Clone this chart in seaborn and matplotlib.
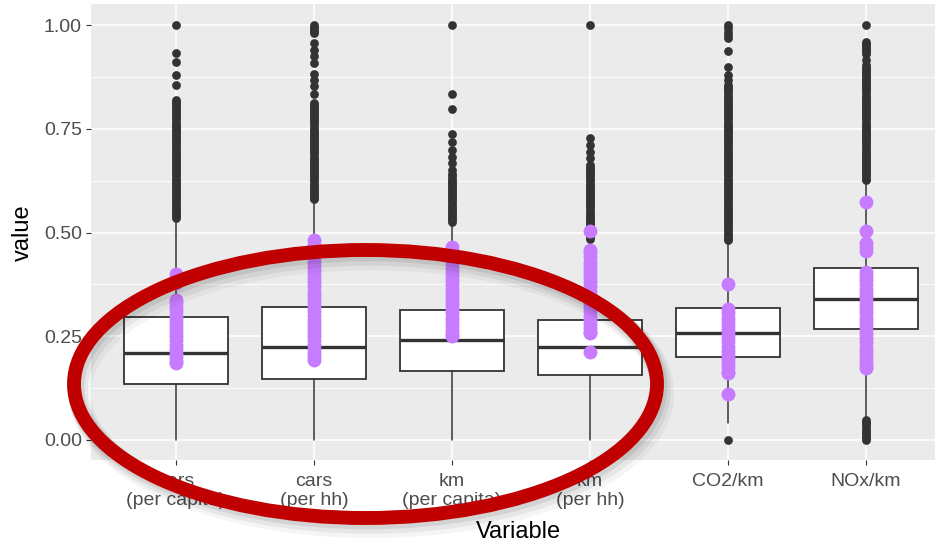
import matplotlib
matplotlib.use("Agg")
import matplotlib.pyplot as plt
from matplotlib.patches import Ellipse
import seaborn as sns
import pandas as pd

# categorias y estadisticos de las cajas
categories = ["cars\n(per capita)", "cars\n(per hh)", "km\n(per capita)",
              "km\n(per hh)", "CO2/km", "NOx/km"]
q1 = [0.134, 0.146, 0.166, 0.157, 0.200, 0.267]
med = [0.210, 0.225, 0.241, 0.225, 0.257, 0.339]
q3 = [0.297, 0.320, 0.313, 0.289, 0.317, 0.414]
whislo = [0.0, 0.0, 0.0, 0.0, 0.040, 0.055]
whishi = [0.530, 0.575, 0.520, 0.480, 0.475, 0.620]

# outliers (negros)
fliers_cars_pc = [1.00, 0.933, 0.911, 0.880, 0.855,
                  0.820, 0.815, 0.810, 0.805, 0.800, 0.795, 0.790, 0.785,
                  0.780, 0.775, 0.770, 0.765, 0.760, 0.755, 0.750, 0.745,
                  0.740, 0.735, 0.730, 0.725, 0.720, 0.715, 0.710, 0.705,
                  0.700, 0.695, 0.690, 0.685, 0.680, 0.675, 0.670, 0.665,
                  0.660, 0.655, 0.650, 0.645, 0.640, 0.635, 0.630, 0.625,
                  0.620, 0.615, 0.610, 0.605, 0.600, 0.595, 0.590, 0.585,
                  0.580, 0.575, 0.570, 0.565, 0.560, 0.555, 0.550, 0.545,
                  0.540, 0.536]
fliers_cars_hh = [1.00, 0.995, 0.990, 0.985, 0.980, 0.957, 0.940, 0.925,
                  0.908, 0.882, 0.867, 0.853, 0.833,
                  0.813, 0.808, 0.803, 0.798, 0.793, 0.788, 0.783, 0.778,
                  0.773, 0.768, 0.763, 0.758, 0.753, 0.748, 0.743, 0.738,
                  0.733, 0.728, 0.723, 0.718, 0.713, 0.708, 0.703, 0.698,
                  0.693, 0.688, 0.683, 0.678, 0.673, 0.668, 0.663, 0.658,
                  0.653, 0.648, 0.643, 0.638, 0.633, 0.628, 0.623, 0.618,
                  0.613, 0.608, 0.603, 0.598, 0.593, 0.588, 0.583, 0.580]
fliers_km_pc = [1.00, 0.833, 0.798, 0.737, 0.719, 0.699, 0.683, 0.667, 0.651,
                0.640, 0.635, 0.630, 0.625, 0.620, 0.615, 0.610, 0.605,
                0.600, 0.595, 0.590, 0.585, 0.580, 0.575, 0.570, 0.565,
                0.560, 0.555, 0.550, 0.545, 0.540, 0.535, 0.530, 0.526]
fliers_km_hh = [1.00, 0.728, 0.711, 0.695, 0.679,
                0.663, 0.658, 0.653, 0.648, 0.643, 0.638, 0.633, 0.628,
                0.623, 0.618, 0.613, 0.608, 0.603, 0.598, 0.593, 0.588,
                0.583, 0.578, 0.573, 0.568, 0.563, 0.558, 0.553, 0.548,
                0.543, 0.538, 0.533, 0.528, 0.523, 0.518, 0.513, 0.508,
                0.503, 0.498, 0.493, 0.488, 0.484]
fliers_co2 = [0.0, 1.00, 0.992, 0.984, 0.976, 0.968, 0.937, 0.900, 0.880,
              0.867, 0.855, 0.850, 0.845, 0.840, 0.835, 0.830, 0.825, 0.820,
              0.815, 0.810, 0.805, 0.800, 0.795, 0.790, 0.785, 0.780, 0.775,
              0.770, 0.765, 0.760, 0.755, 0.750, 0.745, 0.740, 0.735, 0.730,
              0.725, 0.720, 0.715, 0.710, 0.705, 0.700, 0.695, 0.690, 0.685,
              0.680, 0.675, 0.670, 0.665, 0.660, 0.655, 0.650, 0.645, 0.640,
              0.635, 0.630, 0.625, 0.620, 0.615, 0.610, 0.605, 0.600, 0.595,
              0.590, 0.585, 0.580, 0.575, 0.570, 0.565, 0.560, 0.555, 0.550,
              0.545, 0.540, 0.535, 0.530, 0.525, 0.520, 0.515, 0.510, 0.505,
              0.500, 0.495, 0.490, 0.485, 0.482]
fliers_nox = [1.00, 0.960, 0.955, 0.950, 0.945, 0.940, 0.935, 0.930, 0.916,
              0.904, 0.900, 0.895, 0.890, 0.885, 0.880, 0.875, 0.870, 0.865,
              0.860, 0.855, 0.850, 0.845, 0.840, 0.835, 0.830, 0.825, 0.820,
              0.815, 0.810, 0.805, 0.800, 0.795, 0.790, 0.785, 0.780, 0.775,
              0.770, 0.765, 0.760, 0.755, 0.750, 0.745, 0.740, 0.735, 0.730,
              0.725, 0.720, 0.715, 0.710, 0.705, 0.700, 0.695, 0.690, 0.685,
              0.680, 0.675, 0.670, 0.665, 0.660, 0.655, 0.650, 0.645, 0.640,
              0.635, 0.630, 0.627,
              0.048, 0.044, 0.040, 0.035, 0.030, 0.025, 0.020, 0.015, 0.010,
              0.005, 0.0]

# puntos morados
purple_cars_pc = [0.400, 0.390, 0.380, 0.378, 0.337, 0.330, 0.320, 0.310,
                  0.300, 0.290, 0.280, 0.270, 0.260, 0.250, 0.240, 0.230,
                  0.220, 0.210, 0.200, 0.190, 0.186]
purple_cars_hh = [0.482, 0.470, 0.460, 0.450, 0.440, 0.430, 0.420, 0.410,
                  0.400, 0.390, 0.380, 0.370, 0.360, 0.350, 0.340, 0.330,
                  0.320, 0.310, 0.300, 0.290, 0.280, 0.270, 0.260, 0.250,
                  0.240, 0.230, 0.220, 0.210, 0.200, 0.193]
purple_km_pc = [0.465, 0.455, 0.445, 0.435, 0.425, 0.415, 0.405, 0.395,
                0.385, 0.375, 0.365, 0.355, 0.345, 0.335, 0.325, 0.315,
                0.305, 0.295, 0.285, 0.275, 0.265, 0.255, 0.250]
purple_km_hh = [0.504, 0.458, 0.450, 0.440, 0.430, 0.420, 0.410, 0.400,
                0.390, 0.380, 0.370, 0.360, 0.350, 0.340, 0.330, 0.320,
                0.310, 0.300, 0.290, 0.280, 0.270, 0.260, 0.258, 0.213]
purple_co2 = [0.376, 0.316, 0.305, 0.295, 0.285, 0.275, 0.265, 0.255, 0.245,
              0.235, 0.225, 0.215, 0.205, 0.195, 0.185, 0.175, 0.165, 0.161,
              0.111]
purple_nox = [0.573, 0.504, 0.475, 0.465, 0.455, 0.405, 0.395, 0.385, 0.375,
              0.365, 0.355, 0.345, 0.335, 0.325, 0.315, 0.305, 0.295, 0.285,
              0.275, 0.265, 0.255, 0.245, 0.235, 0.225, 0.215, 0.205, 0.195,
              0.185, 0.175, 0.173]

fliers = [fliers_cars_pc, fliers_cars_hh, fliers_km_pc, fliers_km_hh,
          fliers_co2, fliers_nox]
purples = [purple_cars_pc, purple_cars_hh, purple_km_pc, purple_km_hh,
           purple_co2, purple_nox]

df_out = pd.DataFrame([(c, v) for c, vals in zip(categories, fliers) for v in vals],
                      columns=["Variable", "value"])
df_pur = pd.DataFrame([(c, v) for c, vals in zip(categories, purples) for v in vals],
                      columns=["Variable", "value"])

sns.set_theme(style="darkgrid", rc={
    "axes.facecolor": "#EBEBEB",
    "figure.facecolor": "white",
    "grid.color": "white",
})
plt.rcParams["font.family"] = ["Liberation Sans", "DejaVu Sans"]

W, H = 935, 544
fig = plt.figure(figsize=(W / 100, H / 100), dpi=100)
ax = fig.add_axes([91 / W, (H - 460) / H, (W - 91) / W, 456 / H])

# cajas
stats = [dict(q1=a, med=m, q3=b, whislo=lo, whishi=hi, fliers=[])
         for a, m, b, lo, hi in zip(q1, med, q3, whislo, whishi)]
ax.bxp(stats, positions=range(len(categories)), widths=0.75, showfliers=False,
       showcaps=False, patch_artist=True,
       boxprops=dict(facecolor="white", edgecolor="#333333", linewidth=1.3),
       medianprops=dict(color="#333333", linewidth=2.4),
       whiskerprops=dict(color="#333333", linewidth=1.1),
       zorder=2)

sns.stripplot(data=df_out, x="Variable", y="value", order=categories,
              jitter=False, color="#333333", size=6.3, linewidth=0,
              ax=ax, zorder=3)
sns.stripplot(data=df_pur, x="Variable", y="value", order=categories,
              jitter=False, color="#C77CFF", size=10, linewidth=0,
              ax=ax, zorder=4)

ax.set_xlim(-0.616, 5.5)
ax.set_ylim(-20 / 415, 1 + 21 / 415)
ax.set_xticks(range(len(categories)))
ax.set_xticklabels(categories, fontsize=14, color="#4D4D4D", linespacing=1.15)
ax.set_yticks([0, 0.25, 0.5, 0.75, 1.0])
ax.set_yticklabels(["0.00", "0.25", "0.50", "0.75", "1.00"], fontsize=14,
                   color="#4D4D4D")
ax.set_yticks([0.125, 0.375, 0.625, 0.875], minor=True)
ax.grid(True, which="major", color="white", linewidth=1.2)
ax.grid(True, which="minor", axis="y", color="white", linewidth=0.6)
ax.tick_params(axis="both", which="major", length=3.5, width=0.8,
               color="#333333", pad=3, bottom=True, left=True)
ax.tick_params(axis="x", which="major", pad=6)
ax.tick_params(axis="both", which="minor", length=0)
for s in ax.spines.values():
    s.set_visible(False)
ax.set_axisbelow(True)

ax.set_xlabel("Variable", fontsize=17, color="black")
ax.set_ylabel("value", fontsize=17, color="black")
ax.xaxis.set_label_coords((518 - 91) / 844, (460 - 521) / 456)
ax.yaxis.set_label_coords((34 - 91) / 844, (460 - 233) / 456)

# elipse roja con sombra
cx, cy, ew, eh = 365.5, 384, 583, 268
for k, a in [(3, 0.04), (2, 0.06), (1, 0.08)]:
    fig.add_artist(Ellipse(((cx + 2 * k) / W, 1 - (cy + 3 * k) / H), ew / W, eh / H,
                           transform=fig.transFigure, fill=False,
                           edgecolor="black", alpha=a, linewidth=10 + 2 * k,
                           zorder=5))
fig.add_artist(Ellipse((cx / W, 1 - cy / H), ew / W, eh / H,
                       transform=fig.transFigure, fill=False,
                       edgecolor="#C00000", linewidth=10, zorder=6))

fig.savefig("out.png", dpi=100)
